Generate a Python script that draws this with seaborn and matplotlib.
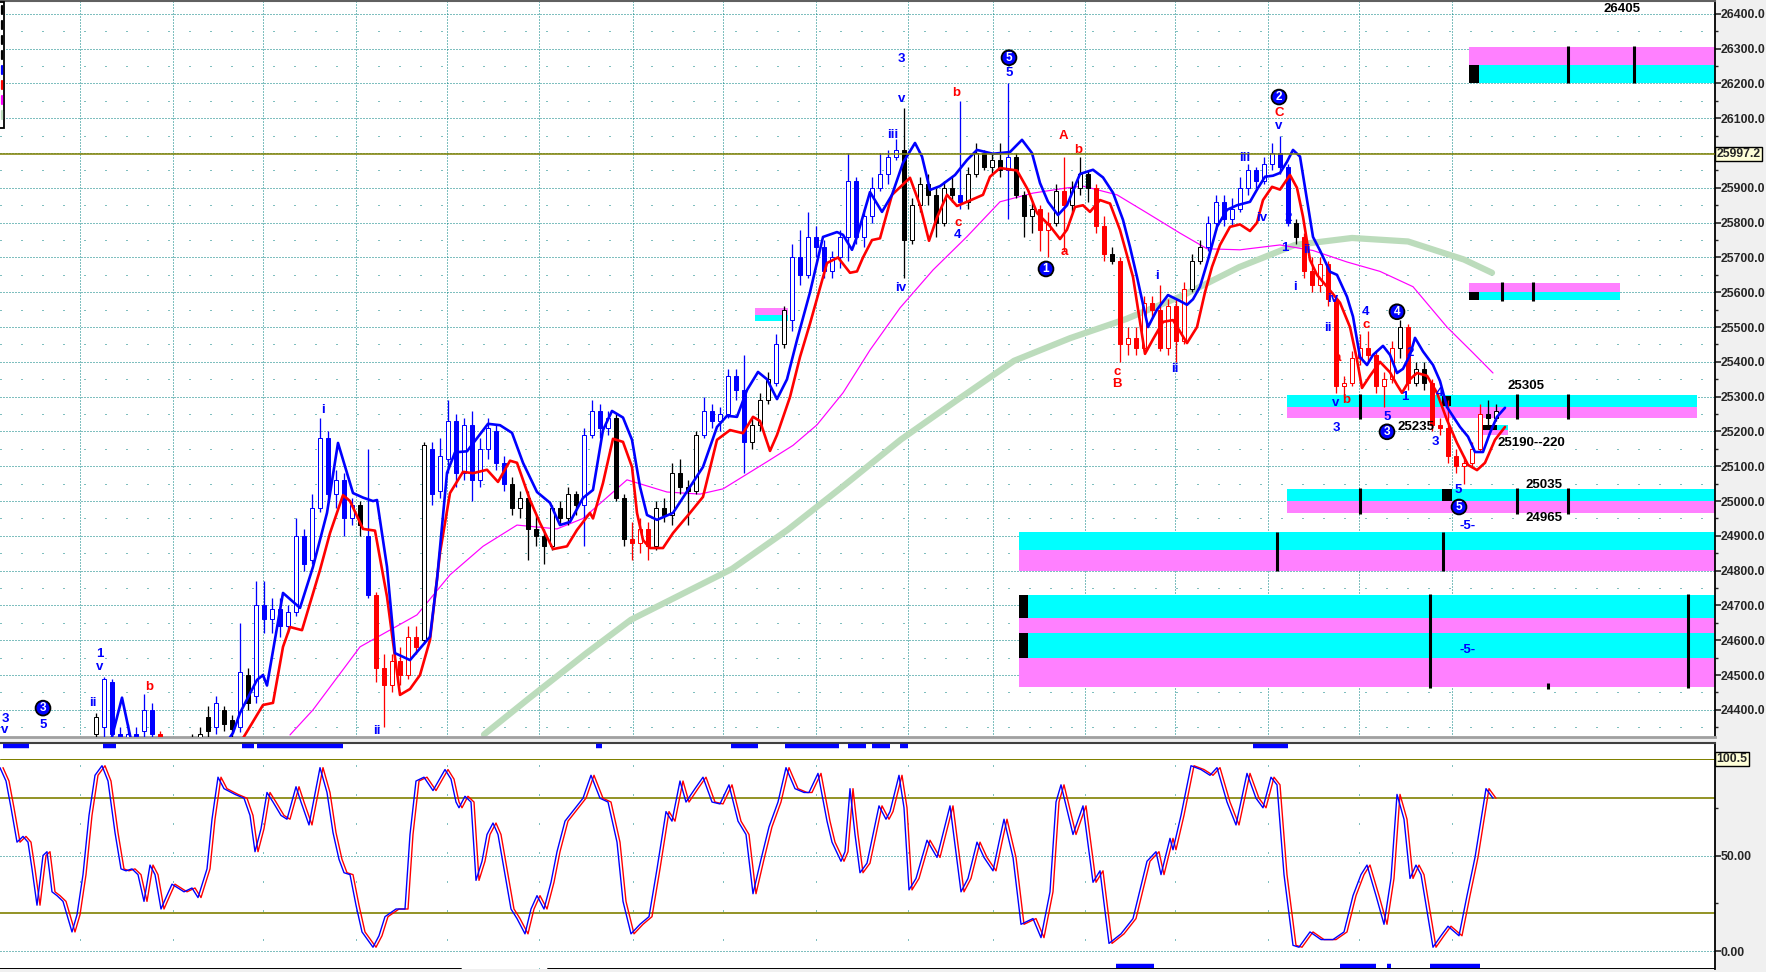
import numpy as np
import matplotlib
matplotlib.use('Agg')
import matplotlib.pyplot as plt
import seaborn as sns
from matplotlib.lines import Line2D
from matplotlib.patches import Rectangle

# ---------------- price bars (one bar every 8 time units, first bar #12) ----------------
FIRST_BAR = 12
BAR_STEP = 8

bar_open = [
    24330, 24350, 24480, 24330, 24310, 24330, 24340, 24400, 24330, 24300,
    24280, 24270, 24290, 24310, 24380, 24350, 24400, 24370, 24350, 24500,
    24440, 24700, 24660, 24690, 24640, 24680, 24900, 24830, 24980, 25180,
    25020, 25060, 24950, 24990, 24900, 24730, 24520, 24470, 24540, 24500,
    24610, 24600, 25150, 25030, 25120, 25230, 25080, 25220, 25060, 25150,
    25200, 25110, 25050, 24980, 25010, 24920, 24900, 24870, 24980, 24950,
    25020, 24990, 25190, 25260, 25210, 25240, 25010, 24890, 24880, 24920,
    24870, 24980, 24960, 25080, 25040, 25030, 25190, 25260, 25230, 25250,
    25360, 25320, 25170, 25220, 25290, 25340, 25450, 25520, 25700, 25650,
    25760, 25730, 25660, 25700, 25760, 25920, 25760, 25820, 25900, 25940,
    25990, 26010, 25750, 25850, 25910, 25880, 25800, 25900, 25880, 25860,
    25940, 26000, 25960, 25980, 25950, 25990, 25880, 25820, 25840, 25780,
    25800, 25890, 25850, 25900, 25940, 25900, 25790, 25710, 25690, 25450,
    25470, 25440, 25570, 25550, 25440, 25560, 25460, 25610, 25690, 25730,
    25800, 25860, 25810, 25840, 25900, 25950, 25920, 25970, 26000, 25960,
    25800, 25760, 25660, 25620, 25680, 25580, 25330, 25340, 25410, 25440,
    25420, 25330, 25350, 25440, 25500, 25340, 25380, 25340, 25220, 25210,
    25130, 25100, 25110, 25150, 25250, 25240]
bar_close = [
    24380, 24490, 24330, 24310, 24330, 24320, 24400, 24330, 24300, 24280,
    24270, 24290, 24310, 24330, 24340, 24420, 24360, 24345, 24510, 24420,
    24700, 24660, 24690, 24640, 24680, 24900, 24820, 24980, 25180, 25020,
    25060, 24950, 24990, 24930, 24730, 24520, 24470, 24540, 24500, 24610,
    24580, 25160, 25020, 25130, 25230, 25080, 25220, 25060, 25150, 25210,
    25110, 25050, 24980, 25010, 24920, 24900, 24870, 24980, 24950, 25020,
    24990, 25190, 25260, 25210, 25240, 25010, 24890, 24880, 24920, 24870,
    24980, 24960, 25080, 25040, 25030, 25190, 25260, 25230, 25250, 25360,
    25320, 25170, 25220, 25290, 25350, 25450, 25550, 25700, 25650, 25760,
    25730, 25660, 25700, 25760, 25920, 25760, 25820, 25900, 25940, 25990,
    26010, 25750, 25850, 25910, 25880, 25800, 25900, 25880, 25860, 25940,
    26000, 25960, 25980, 25950, 25990, 25880, 25820, 25840, 25780, 25800,
    25890, 25850, 25900, 25940, 25900, 25790, 25710, 25690, 25450, 25470,
    25440, 25570, 25550, 25440, 25560, 25460, 25610, 25690, 25730, 25800,
    25860, 25810, 25840, 25900, 25950, 25920, 25970, 26000, 25960, 25800,
    25760, 25660, 25620, 25680, 25580, 25330, 25340, 25410, 25440, 25420,
    25330, 25350, 25440, 25500, 25340, 25380, 25340, 25220, 25210, 25130,
    25100, 25110, 25150, 25250, 25240, 25260]
bar_high = [
    24390, 24495, 24490, 24350, 24360, 24350, 24445, 24420, 24340, 24320,
    24300, 24310, 24330, 24350, 24410, 24440, 24410, 24385, 24650, 24520,
    24770, 24770, 24720, 24720, 24700, 24950, 24920, 25020, 25240, 25200,
    25090, 25080, 25010, 25000, 25150, 24740, 24560, 24560, 24580, 24640,
    24640, 25170, 25170, 25180, 25290, 25250, 25240, 25260, 25180, 25240,
    25220, 25130, 25070, 25030, 25030, 24960, 24920, 24990, 25000, 25040,
    25030, 25210, 25290, 25280, 25260, 25250, 25020, 24940, 24950, 24940,
    25000, 25010, 25110, 25120, 25060, 25200, 25300, 25280, 25270, 25380,
    25380, 25420, 25240, 25310, 25370, 25480, 25560, 25740, 25780, 25830,
    25790, 25750, 25720, 25780, 26000, 25930, 25840, 25930, 26000, 26010,
    26040, 26130, 25870, 25930, 25940, 25900, 25920, 25930, 26150, 25960,
    26030, 26010, 26000, 26030, 26200, 26000, 25890, 25860, 25850, 25830,
    25910, 25990, 25920, 25990, 25950, 25910, 25820, 25730, 25700, 25500,
    25500, 25590, 25590, 25620, 25580, 25580, 25630, 25710, 25750, 25820,
    25880, 25880, 25870, 25930, 25970, 25960, 25990, 26030, 26050, 25970,
    25810, 25770, 25700, 25700, 25690, 25590, 25360, 25430, 25480, 25490,
    25430, 25370, 25460, 25520, 25510, 25400, 25400, 25350, 25240, 25290,
    25150, 25130, 25170, 25280, 25290, 25280]
bar_low = [
    24300, 24300, 24300, 24280, 24290, 24300, 24300, 24300, 24270, 24250,
    24240, 24250, 24270, 24290, 24320, 24330, 24340, 24320, 24335, 24400,
    24420, 24620, 24620, 24610, 24620, 24670, 24800, 24820, 24970, 25000,
    24980, 24900, 24930, 24900, 24720, 24480, 24350, 24450, 24470, 24490,
    24560, 24590, 24990, 25010, 25080, 25040, 25060, 25000, 25040, 25120,
    25090, 25030, 24960, 24950, 24830, 24870, 24820, 24860, 24930, 24930,
    24960, 24870, 25180, 25180, 25190, 25000, 24870, 24830, 24850, 24830,
    24860, 24940, 24930, 25020, 24930, 25020, 25180, 25210, 25200, 25240,
    25290, 25080, 25150, 25200, 25280, 25330, 25440, 25490, 25620, 25640,
    25700, 25640, 25640, 25670, 25690, 25740, 25730, 25800, 25890, 25910,
    25980, 25640, 25740, 25830, 25850, 25760, 25790, 25860, 25840, 25840,
    25930, 25950, 25940, 25930, 25810, 25870, 25760, 25770, 25720, 25700,
    25790, 25720, 25830, 25880, 25860, 25770, 25690, 25680, 25400, 25420,
    25420, 25430, 25530, 25430, 25420, 25400, 25450, 25600, 25680, 25720,
    25780, 25790, 25790, 25830, 25880, 25900, 25910, 25950, 25940, 25790,
    25740, 25640, 25600, 25600, 25560, 25310, 25300, 25330, 25390, 25400,
    25310, 25270, 25340, 25410, 25320, 25330, 25320, 25200, 25190, 25110,
    25080, 25050, 25100, 25140, 25220, 25230]
# B = blue (up trend), K = black (neutral), R = red (down trend)
bar_colour = list("KBBBBBBBRR" "RKKKKBKKBK" "BBBBBBBBBB" "BBBKBRRRRR" "RKBBBBBBBB"
                  "BBKKKKKKKK" "KBBBBKKRRR" "KKKKKKBBBB" "BBKKKBKBBB" "BBBBBBBBBB"
                  "BKKKKKKKBK" "KKKKBKKKRR" "KRKKKRRKRR" "RRRRRRRKKB" "BBBBBBBBBB"
                  "KRRRRRRRRR" "RRRKRKKRRR" "RRRRKK")

# ---------------- indicator lines ----------------
blue_t = [110, 122, 132, 180, 225, 233, 240, 257, 263, 267, 283, 300, 313, 327, 338, 353, 363, 373,
          377, 387, 395, 410, 430, 437, 447, 455, 467, 488, 500, 512, 523, 537, 550, 560, 570, 583,
          593, 603, 612, 623, 632, 640, 647, 657, 673, 690, 703, 717, 727, 737, 747, 758, 767, 777,
          787, 797, 810, 823, 837, 843, 852, 857, 870, 882, 892, 903, 915, 922, 930, 940, 955, 967,
          977, 993, 1010, 1022, 1032, 1040, 1048, 1058, 1067, 1080, 1093, 1103, 1113, 1123, 1130,
          1137, 1142, 1148, 1157, 1168, 1180, 1187, 1193, 1200, 1208, 1217, 1227, 1237, 1250, 1257,
          1265, 1273, 1280, 1287, 1293, 1300, 1307, 1313, 1320, 1330, 1337, 1347, 1353, 1360, 1367,
          1373, 1383, 1390, 1397, 1403, 1410, 1415, 1423, 1433, 1440, 1447, 1460, 1468, 1475, 1483,
          1490, 1497, 1505]
blue_p = [24300, 24435, 24300, 24240, 24300, 24334, 24391, 24486, 24500, 24470, 24736, 24693, 24811,
          24966, 25167, 25023, 25010, 25000, 25003, 24811, 24563, 24543, 24610, 24774, 25081, 25140,
          25143, 25222, 25218, 25196, 25110, 25026, 24995, 24931, 24940, 25009, 25032, 25204, 25259,
          25240, 25176, 25041, 24960, 24946, 24966, 25041, 25098, 25213, 25245, 25242, 25319, 25371,
          25350, 25293, 25350, 25463, 25600, 25759, 25773, 25765, 25722, 25760, 25888, 25831, 25880,
          25972, 26029, 25990, 25894, 25905, 25937, 25980, 26009, 25998, 26003, 26038, 26000, 25914,
          25860, 25822, 25850, 25940, 25952, 25930, 25886, 25808, 25730, 25644, 25578, 25500, 25550,
          25592, 25575, 25564, 25580, 25616, 25693, 25788, 25837, 25850, 25860, 25895, 25932, 25935,
          25943, 25975, 26009, 25990, 25865, 25759, 25720, 25659, 25650, 25587, 25530, 25414, 25391,
          25420, 25446, 25420, 25368, 25380, 25420, 25469, 25430, 25391, 25345, 25270, 25213, 25185,
          25141, 25141, 25196, 25242, 25268]

red_t = [235, 245, 263, 273, 283, 290, 302, 320, 330, 343, 350, 363, 375, 387, 400, 410, 420, 430,
         440, 450, 463, 473, 487, 498, 510, 517, 530, 540, 553, 567, 577, 590, 593, 603, 613, 623,
         632, 637, 643, 650, 663, 673, 690, 703, 717, 730, 743, 753, 760, 770, 777, 790, 800, 810,
         827, 838, 850, 857, 863, 872, 880, 892, 910, 920, 929, 937, 947, 957, 967, 983, 990, 1000,
         1017, 1028, 1037, 1050, 1060, 1067, 1075, 1083, 1090, 1100, 1110, 1120, 1133, 1145, 1153,
         1163, 1173, 1187, 1197, 1205, 1212, 1220, 1230, 1240, 1250, 1257, 1263, 1272, 1280, 1290,
         1297, 1303, 1310, 1317, 1327, 1340, 1350, 1357, 1362, 1370, 1380, 1390, 1397, 1402, 1410,
         1417, 1427, 1437, 1447, 1457, 1468, 1477, 1485, 1495, 1505]
red_p = [24280, 24328, 24414, 24420, 24581, 24638, 24629, 24802, 24908, 25017, 25000, 24920, 24915,
         24725, 24443, 24460, 24500, 24601, 24851, 25023, 25084, 25080, 25090, 25055, 25116, 25110,
         25003, 24937, 24862, 24870, 24917, 24966, 24950, 25052, 25179, 25170, 25098, 24966, 24888,
         24865, 24865, 24908, 24966, 25012, 25176, 25204, 25195, 25242, 25230, 25144, 25190, 25299,
         25414, 25510, 25684, 25700, 25656, 25660, 25700, 25750, 25755, 25880, 25929, 25850, 25748,
         25815, 25880, 25848, 25860, 25880, 25932, 25957, 25950, 25894, 25828, 25790, 25753, 25780,
         25845, 25850, 25831, 25865, 25855, 25779, 25644, 25423, 25465, 25515, 25520, 25454, 25500,
         25600, 25673, 25736, 25788, 25795, 25776, 25800, 25865, 25903, 25895, 25937, 25900, 25817,
         25693, 25650, 25616, 25570, 25500, 25406, 25325, 25360, 25400, 25370, 25334, 25311, 25350,
         25368, 25360, 25311, 25233, 25167, 25104, 25089, 25110, 25176, 25213]

magenta_t = [290, 313, 360, 417, 450, 483, 517, 557, 583, 627, 667, 700, 723, 767, 793, 817, 843,
             870, 900, 933, 967, 1000, 1033, 1067, 1083, 1117, 1147, 1180, 1207, 1240, 1280, 1313,
             1347, 1380, 1413, 1447, 1473, 1493]
magenta_p = [24328, 24400, 24581, 24673, 24788, 24870, 24931, 24920, 24950, 25061, 25026, 25020,
             25035, 25113, 25160, 25219, 25311, 25434, 25555, 25664, 25760, 25860, 25885, 25900,
             25905, 25880, 25828, 25770, 25725, 25722, 25736, 25720, 25687, 25660, 25616, 25500,
             25426, 25368]

green_t = [484, 529, 586, 631, 676, 732, 788, 845, 901, 957, 1014, 1070, 1126, 1183, 1239, 1295,
           1352, 1408, 1464, 1492]
green_p = [24329, 24433, 24562, 24659, 24724, 24805, 24918, 25047, 25177, 25290, 25403, 25468,
           25523, 25591, 25672, 25736, 25756, 25746, 25694, 25656]

last_price = 25997.2

# session boundaries (vertical grid)
session_t = [80, 173, 263, 356, 447, 539, 633, 723, 816, 908, 993, 1085, 1175, 1268, 1359, 1452]

# ---------------- target zones ----------------
zone_x0 = [1469, 1469, 1287, 1287, 1019, 1019, 1019, 1483, 755]
zone_x1 = [1715, 1620, 1697, 1715, 1715, 1715, 1715, 1508, 788]
zone_cyan_lo = [26202, 25578, 25270, 25000, 24860, 24665, 24550, 25205, 25518]
zone_cyan_hi = [26253, 25601, 25305, 25035, 24910, 24730, 24620, 25220, 25535]
zone_pink_lo = [26253, 25601, 25239, 24965, 24800, 24620, 24465, 25190, 25535]
zone_pink_hi = [26305, 25627, 25270, 25000, 24860, 24665, 24550, 25205, 25555]
block_x0 = [1469, 1469, 1442, 1442, 1019, 1019, 1483]
block_x1 = [1479, 1479, 1451, 1452, 1028, 1028, 1497]
block_lo = [26202, 25578, 25272, 25000, 24665, 24550, 25205]
block_hi = [26253, 25601, 25302, 25035, 24730, 24620, 25220]
marker_t = [1568, 1634, 1502, 1533, 1360, 1517, 1568, 1360, 1517, 1568, 1277, 1443, 1430, 1688, 1548]
marker_lo = [26200, 26200, 25576, 25576, 25237, 25237, 25237, 24963, 24963, 24963, 24798, 24798,
             24463, 24463, 24461]
marker_hi = [26307, 26307, 25629, 25629, 25307, 25307, 25307, 25037, 25037, 25037, 24912, 24912,
             24732, 24732, 24478]

# ---------------- wave labels ----------------
wave_text = ['3', 'v', '5', 'ii', 'v', '1', 'b', 'i', 'ii', '3', 'v', 'iii', 'iv', 'b', 'c', '4',
             '5', 'A', 'b', 'a', 'c', 'B', 'i', 'ii', 'iii', 'C', 'v', 'iv', '2', '1', 'ii', 'i',
             'iv', 'ii', 'a', 'v', 'b', '3', '4', 'c', '5', '2', '1', '3', '4', '5', '-5-', '-5-']
wave_t = [5, 5, 43, 93, 100, 100, 149, 323, 377, 901, 902, 893, 901, 956, 958, 958, 1009, 1063,
          1078, 1064, 1117, 1117, 1157, 1175, 1245, 1279, 1279, 1262, 1288, 1285, 1307, 1295, 1333,
          1328, 1337, 1336, 1346, 1336, 1366, 1366, 1387, 1410, 1405, 1435, 1440, 1458, 1468, 1468]
wave_p = [24375, 24342, 24357, 24420, 24523, 24561, 24466, 25262, 24340, 26271, 26156, 26052,
          25613, 26173, 25799, 25765, 26230, 26049, 26009, 25716, 25371, 25337, 25647, 25380,
          25986, 26116, 26078, 25814, 25814, 25727, 25722, 25615, 25581, 25498, 25411, 25282,
          25291, 25210, 25544, 25506, 25242, 25426, 25300, 25170, 25311, 25032, 24929, 24572]
wave_col = list("BBBBBB" "R" "BBBBBB" "RR" "BB" "RRRRR" "BBB" "R" "BBBBBBBB" "R" "B" "R" "BB" "R"
                "BBBBBBBB")
circ_text = ['3', '5', '1', '2', '3', '4', '5']
circ_t = [43, 1009, 1046, 1279, 1387, 1397, 1459]
circ_p = [24405, 26274, 25667, 26161, 25199, 25544, 24983]
value_text = ['26405', '25305', '25235', '25190--220', '25035', '24965']
value_t = [1603, 1507, 1397, 1497, 1526, 1526]
value_p = [26414, 25331, 25213, 25167, 25047, 24952]

# ---------------- stochastic ----------------
stoch_t = [0, 6, 11, 17, 23, 28, 32, 37, 43, 47,
           52, 57, 63, 72, 77, 83, 89, 95, 102, 108,
           115, 121, 126, 132, 138, 144, 150, 155, 161, 166,
           172, 184, 192, 198, 207, 212, 218, 224, 235, 244,
           250, 255, 261, 267, 273, 281, 287, 296, 301, 309,
           316, 320, 327, 333, 339, 344, 350, 356, 362, 373,
           379, 385, 396, 405, 410, 416, 424, 433, 445, 451,
           456, 459, 465, 471, 476, 482, 487, 493, 498, 505,
           511, 517, 525, 531, 537, 544, 551, 557, 565, 574,
           583, 591, 600, 608, 617, 623, 631, 640, 649, 657,
           666, 672, 680, 686, 695, 703, 712, 720, 729, 738,
           746, 753, 761, 769, 778, 786, 795, 804, 809, 818,
           827, 832, 841, 845, 850, 855, 860, 867, 879, 886,
           890, 899, 904, 909, 916, 927, 937, 950, 961, 968,
           977, 984, 993, 999, 1004, 1013, 1021, 1033, 1041, 1050,
           1056, 1061, 1073, 1083, 1093, 1100, 1109, 1121, 1133, 1147,
           1156, 1161, 1170, 1173, 1181, 1191, 1201, 1210, 1217, 1227,
           1236, 1247, 1256, 1263, 1271, 1277, 1284, 1293, 1299, 1310,
           1321, 1333, 1344, 1353, 1361, 1367, 1376, 1384, 1391, 1397,
           1404, 1410, 1416, 1421, 1433, 1441, 1448, 1459, 1467, 1475,
           1486, 1493]
stoch_k = [96, 89, 75, 57, 60, 57, 43, 24, 50, 52,
           31, 29, 26, 10, 19, 40, 71, 92, 97, 89,
           62, 43, 42, 43, 40, 26, 45, 40, 22, 28,
           35, 31, 33, 28, 43, 69, 91, 85, 82, 80,
           71, 52, 64, 83, 78, 71, 69, 86, 78, 66,
           85, 96, 83, 62, 48, 41, 40, 24, 10, 2,
           8, 18, 22, 22, 61, 89, 91, 84, 95, 90,
           78, 75, 81, 78, 37, 47, 61, 67, 61, 40,
           22, 17, 9, 22, 29, 22, 36, 52, 68, 74,
           80, 92, 80, 78, 57, 26, 9, 14, 18, 43,
           73, 68, 89, 78, 85, 91, 78, 77, 87, 68,
           61, 30, 48, 65, 78, 96, 85, 83, 83, 93,
           68, 57, 47, 52, 85, 61, 41, 46, 76, 69,
           73, 92, 75, 32, 38, 58, 49, 76, 31, 38,
           57, 49, 42, 57, 69, 49, 14, 17, 7, 31,
           78, 87, 61, 76, 36, 42, 4, 9, 17, 47,
           52, 40, 59, 53, 71, 97, 95, 92, 96, 78,
           66, 93, 80, 75, 91, 87, 40, 3, 2, 10,
           6, 6, 10, 29, 40, 45, 29, 14, 38, 82,
           69, 38, 45, 40, 2, 8, 13, 8, 29, 49,
           85, 80]
STOCH_LAG = 3  # the slow line trails the fast one by a few time units
stoch_top_level = 100.5
signal_top_x0 = [3, 103, 242, 257, 596, 731, 785, 848, 872, 900, 1253]
signal_top_x1 = [29, 116, 254, 343, 602, 758, 839, 866, 890, 908, 1288]
signal_bot_x0 = [1116, 1340, 1387, 1430]
signal_bot_x1 = [1154, 1376, 1391, 1480]

# ---------------- styling ----------------
sns.set_style('white')
plt.rcParams['font.family'] = ['Liberation Sans', 'DejaVu Sans']

PX = 0.72  # one pixel in points at dpi 100
TEAL = '#008080'
OLIVE = '#808000'
CYAN = '#00ffff'
PINK = '#ff80ff'
BLUE = '#0000ff'
RED = '#ff0000'
MAGENTA = '#ff00ff'
GREEN = '#bcdcbc'
colour_map = {'B': BLUE, 'K': 'black', 'R': RED}
AXIS_FS = 8.8

W, H = 1766, 972
fig = plt.figure(figsize=(W / 100, H / 100), dpi=100, facecolor='#f0f0f0')
ax = fig.add_axes([0, 235 / H, 1715 / W, 736 / H])
ax2 = fig.add_axes([0, 3 / H, 1715 / W, 226 / H], sharex=ax)
ax.set_xlim(0, 1715)
ax.set_ylim(24322, 26437)
ax2.set_ylim(-9.4, 108.9)

# grid
for p in range(24400, 26401, 100):
    ax.axhline(p, color=TEAL, lw=PX, ls=(0, (1, 2)), zorder=0.5)
for p in range(24350, 26401, 100):
    ax.axhline(p, color=TEAL, lw=PX, ls=(0, (1, 20)), zorder=0.5)
for t in session_t:
    ax.axvline(t, color=TEAL, lw=PX, ls=(0, (1, 2)), zorder=0.5)
    ax2.axvline(t, color=TEAL, lw=PX, ls=(0, (1, 28)), zorder=0.5)

# zones
for k in range(len(zone_x0)):
    xs = [zone_x0[k], zone_x1[k]]
    ax.fill_between(xs, zone_cyan_lo[k], zone_cyan_hi[k], color=CYAN, lw=0, zorder=1.5)
    ax.fill_between(xs, zone_pink_lo[k], zone_pink_hi[k], color=PINK, lw=0, zorder=1.5)
for k in range(len(block_x0)):
    ax.fill_between([block_x0[k], block_x1[k]], block_lo[k], block_hi[k], color='black', lw=0, zorder=1.6)
ax.vlines(marker_t, marker_lo, marker_hi, colors='black', lw=2.2, zorder=1.7)

# moving averages
sns.lineplot(x=green_t, y=green_p, ax=ax, color=GREEN, lw=4.5, sort=False, estimator=None, zorder=2)
sns.lineplot(x=magenta_t, y=magenta_p, ax=ax, color=MAGENTA, lw=PX * 1.2, sort=False, estimator=None, zorder=2.5)

# candles
o = np.array(bar_open)
c = np.array(bar_close)
bar_t = (np.arange(len(bar_open)) + FIRST_BAR) * BAR_STEP
cols = [colour_map[k] for k in bar_colour]
face = ['white' if cc > oo else col for oo, cc, col in zip(o, c, cols)]
ax.vlines(bar_t, bar_low, bar_high, colors=cols, lw=PX * 1.3, zorder=3)
ax.bar(bar_t, np.maximum(np.abs(c - o), 4), bottom=np.minimum(o, c), width=4.5,
       color=face, edgecolor=cols, linewidth=PX, zorder=3.2)

# channel lines
sns.lineplot(x=red_t, y=red_p, ax=ax, color=RED, lw=1.9, sort=False, estimator=None, zorder=4)
sns.lineplot(x=blue_t, y=blue_p, ax=ax, color=BLUE, lw=1.9, sort=False, estimator=None, zorder=4.1)

ax.axhline(last_price, color=OLIVE, lw=1.1, zorder=4.5)

# labels
for txt, t, p, col in zip(wave_text, wave_t, wave_p, wave_col):
    ax.text(t, p, txt, color=colour_map[col], fontsize=9.5, fontweight='bold',
            ha='center', va='center', zorder=6)
for txt, t, p in zip(circ_text, circ_t, circ_p):
    ax.text(t, p, txt, color='white', fontsize=8.5, fontweight='bold', ha='center', va='center',
            zorder=7, bbox=dict(boxstyle='circle,pad=0.12', fc=BLUE, ec='black', lw=1.3))
for txt, t, p in zip(value_text, value_t, value_p):
    ax.text(t, p, txt, color='black', fontsize=9.5, fontweight='bold', ha='left', va='center', zorder=7)

# price axis
ax.yaxis.tick_right()
ticks = list(range(24400, 26401, 100))
ax.set_yticks(ticks)
ax.set_yticklabels(['' if v == 26000 else f'{v:.1f}' for v in ticks])
ax.set_yticks(range(24350, 26401, 100), minor=True)
ax.tick_params(axis='y', which='major', direction='out', length=4, width=1.2,
               labelsize=AXIS_FS, pad=0.3)
ax.tick_params(axis='y', which='minor', direction='out', length=2.5, width=1)
for lab in ax.get_yticklabels():
    lab.set_fontweight('bold')
ax.set_xticks([])
ax.text(1.001, last_price, '25997.2', transform=ax.get_yaxis_transform(), fontsize=AXIS_FS,
        fontweight='bold', ha='left', va='center', clip_on=False, zorder=8,
        bbox=dict(boxstyle='square,pad=0.1', fc='#ffffd8', ec='black', lw=1))

ax.spines['left'].set_visible(False)
ax.spines['top'].set_color('#606060')
ax.spines['top'].set_linewidth(1.5)
ax.spines['bottom'].set_color('#a0a0a0')
ax.spines['bottom'].set_linewidth(2)
ax.spines['right'].set_color('black')
ax.spines['right'].set_linewidth(1.3)

# ---------------- stochastic panel ----------------
ax2.axhline(50, color=TEAL, lw=PX, ls=(0, (1, 2)), zorder=0.5)
ax2.axhline(0, color=TEAL, lw=PX, ls=(0, (1, 2)), zorder=0.5)
ax2.axhline(stoch_top_level, color=OLIVE, lw=PX, zorder=0.6)
ax2.axhline(80, color=OLIVE, lw=1.2, zorder=0.6)
ax2.axhline(20, color=OLIVE, lw=1.2, zorder=0.6)
sns.lineplot(x=np.array(stoch_t) + STOCH_LAG, y=stoch_k, ax=ax2, color=RED, lw=1.0,
             sort=False, estimator=None, zorder=2)
sns.lineplot(x=stoch_t, y=stoch_k, ax=ax2, color=BLUE, lw=1.0, sort=False, estimator=None, zorder=3)
ax2.hlines([107.2] * len(signal_top_x0), signal_top_x0, signal_top_x1, colors=BLUE, lw=3.2, zorder=4)
ax2.hlines([-7.9] * len(signal_bot_x0), signal_bot_x0, signal_bot_x1, colors=BLUE, lw=3.2, zorder=4)

ax2.yaxis.tick_right()
ax2.set_yticks([0, 50])
ax2.set_yticklabels(['0.00', '50.00'])
ax2.set_yticks([25, 75], minor=True)
ax2.tick_params(axis='y', which='major', direction='out', length=4, width=1.2,
                labelsize=AXIS_FS, pad=0.3)
ax2.tick_params(axis='y', which='minor', direction='out', length=2.5, width=1)
for lab in ax2.get_yticklabels():
    lab.set_fontweight('bold')
ax2.tick_params(axis='x', bottom=False, labelbottom=False)
ax2.text(1.001, stoch_top_level, '100.5', transform=ax2.get_yaxis_transform(), fontsize=AXIS_FS,
         fontweight='bold', ha='left', va='center', clip_on=False, zorder=8,
         bbox=dict(boxstyle='square,pad=0.1', fc='#ffffd8', ec='black', lw=1))
ax2.set_xlabel('')
ax2.set_ylabel('')
ax.set_xlabel('')
ax.set_ylabel('')
ax2.spines['left'].set_visible(False)
ax2.spines['top'].set_color('#404040')
ax2.spines['top'].set_linewidth(1.5)
ax2.spines['right'].set_color('black')
ax2.spines['right'].set_linewidth(1.3)
ax2.spines['bottom'].set_visible(False)
ax2.axhline(-9.2, xmin=0, xmax=461 / 1715, color='black', lw=1.4, zorder=5)
ax2.axhline(-9.2, xmin=548 / 1715, xmax=1, color='black', lw=1.4, zorder=5)

# clipped legend box in the top-left corner
fig.add_artist(Rectangle((-3 / W, 1 - 128 / H), 7 / W, 126 / H, transform=fig.transFigure,
                         fc='white', ec='black', lw=1.3, zorder=10))
for k, col in enumerate(['black'] * 4 + [BLUE, RED, MAGENTA, GREEN]):
    y0 = 6 + 15 * k
    fig.add_artist(Line2D([1.5 / W, 1.5 / W], [1 - y0 / H, 1 - (y0 + 8) / H],
                          transform=fig.transFigure, color=col, lw=1.6, zorder=11))

fig.savefig('out.png', dpi=100, facecolor=fig.get_facecolor())
